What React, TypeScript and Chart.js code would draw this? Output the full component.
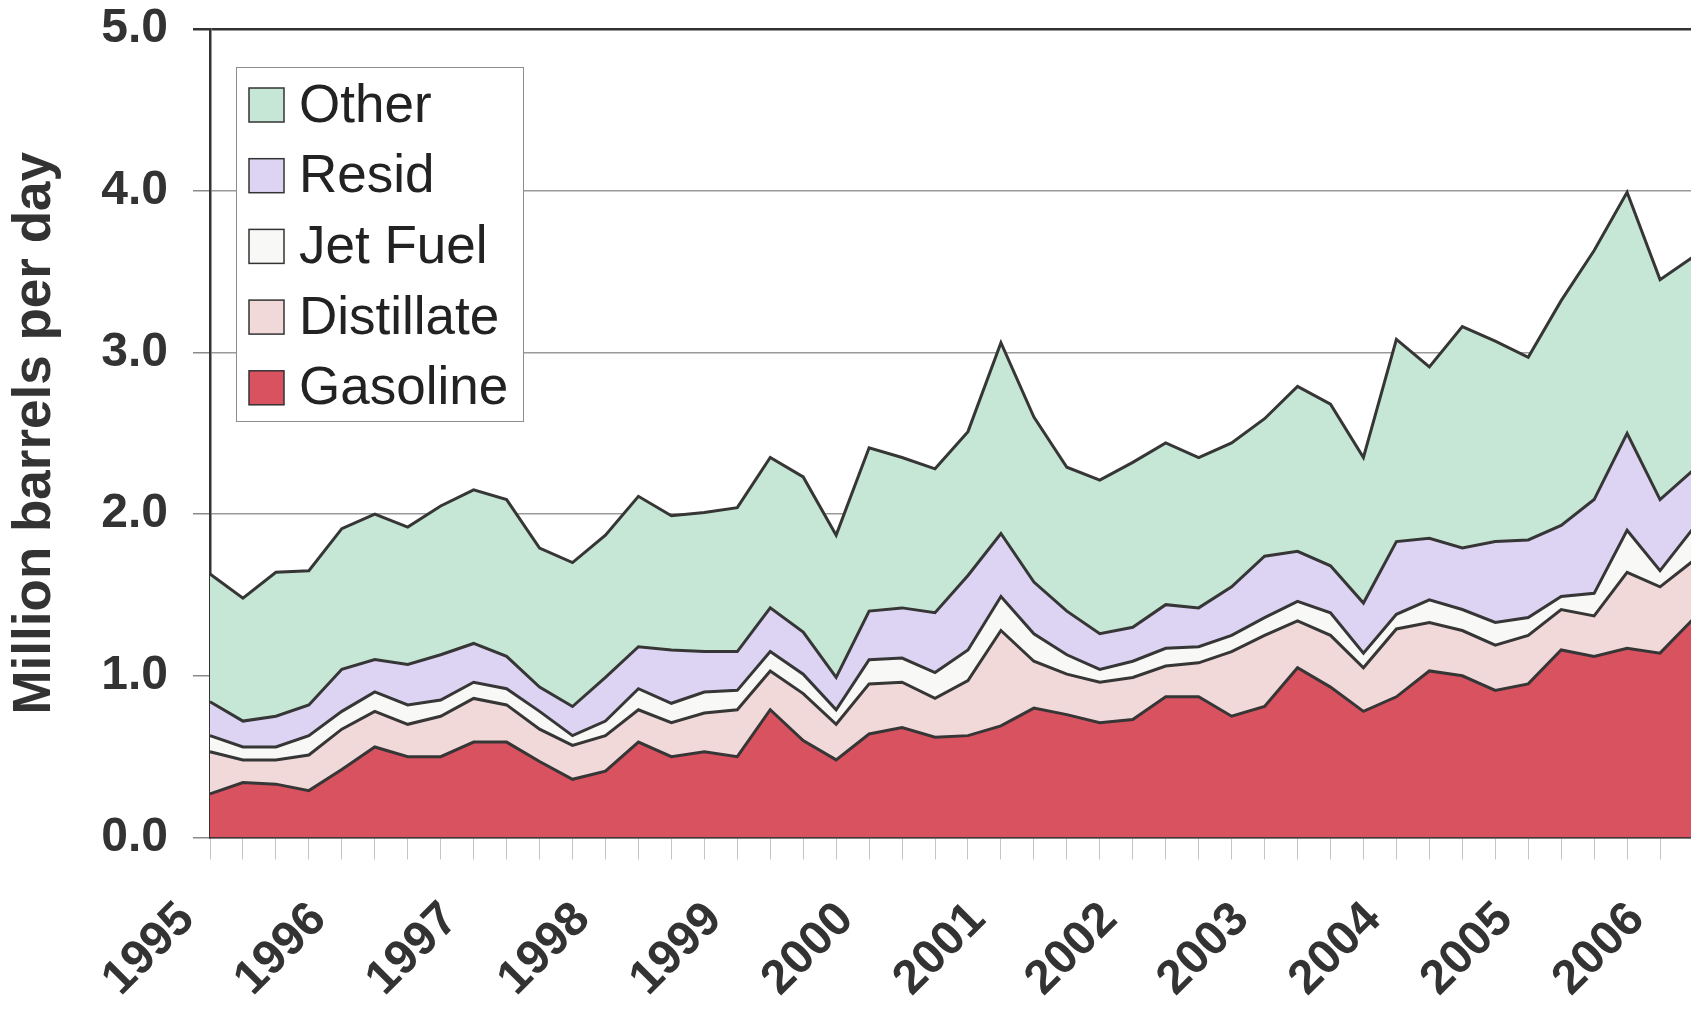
import React, { useEffect, useRef } from 'react';
import { Chart, registerables } from 'chart.js';

Chart.register(...registerables);

const quarters = [
  '1995 Q1', '1995 Q2', '1995 Q3', '1995 Q4',
  '1996 Q1', '1996 Q2', '1996 Q3', '1996 Q4',
  '1997 Q1', '1997 Q2', '1997 Q3', '1997 Q4',
  '1998 Q1', '1998 Q2', '1998 Q3', '1998 Q4',
  '1999 Q1', '1999 Q2', '1999 Q3', '1999 Q4',
  '2000 Q1', '2000 Q2', '2000 Q3', '2000 Q4',
  '2001 Q1', '2001 Q2', '2001 Q3', '2001 Q4',
  '2002 Q1', '2002 Q2', '2002 Q3', '2002 Q4',
  '2003 Q1', '2003 Q2', '2003 Q3', '2003 Q4',
  '2004 Q1', '2004 Q2', '2004 Q3', '2004 Q4',
  '2005 Q1', '2005 Q2', '2005 Q3', '2005 Q4',
  '2006 Q1', '2006 Q2',
];

const gasoline = [
  0.27, 0.34, 0.33, 0.29, 0.42, 0.56, 0.50, 0.50, 0.59, 0.59,
  0.47, 0.36, 0.41, 0.59, 0.50, 0.53, 0.50, 0.79, 0.60, 0.48,
  0.64, 0.68, 0.62, 0.63, 0.69, 0.80, 0.76, 0.71, 0.73, 0.87,
  0.87, 0.75, 0.81, 1.05, 0.93, 0.78, 0.87, 1.03, 1.00, 0.91,
  0.95, 1.16, 1.12, 1.17, 1.14, 1.35,
];

const distillate = [
  0.26, 0.14, 0.15, 0.22, 0.25, 0.22, 0.20, 0.25, 0.27, 0.23,
  0.20, 0.21, 0.22, 0.20, 0.21, 0.24, 0.29, 0.24, 0.29, 0.22,
  0.31, 0.28, 0.24, 0.34, 0.59, 0.29, 0.25, 0.25, 0.26, 0.19,
  0.21, 0.40, 0.44, 0.29, 0.32, 0.27, 0.42, 0.30, 0.28, 0.28,
  0.30, 0.25, 0.25, 0.47, 0.41, 0.36,
];

const jetFuel = [
  0.10, 0.08, 0.08, 0.12, 0.11, 0.12, 0.12, 0.10, 0.10, 0.10,
  0.11, 0.06, 0.09, 0.13, 0.12, 0.13, 0.12, 0.12, 0.12, 0.09,
  0.15, 0.15, 0.16, 0.19, 0.21, 0.17, 0.12, 0.08, 0.10, 0.11,
  0.10, 0.10, 0.11, 0.12, 0.14, 0.09, 0.09, 0.14, 0.13, 0.14,
  0.11, 0.08, 0.14, 0.26, 0.10, 0.20,
];

const resid = [
  0.21, 0.16, 0.19, 0.19, 0.26, 0.20, 0.25, 0.28, 0.24, 0.20,
  0.15, 0.18, 0.27, 0.26, 0.33, 0.25, 0.24, 0.27, 0.26, 0.20,
  0.30, 0.31, 0.37, 0.46, 0.39, 0.32, 0.27, 0.22, 0.21, 0.27,
  0.24, 0.30, 0.38, 0.31, 0.29, 0.31, 0.45, 0.38, 0.38, 0.50,
  0.48, 0.44, 0.58, 0.60, 0.44, 0.36,
];

const other = [
  0.79, 0.76, 0.89, 0.83, 0.87, 0.90, 0.85, 0.92, 0.95, 0.97,
  0.86, 0.89, 0.88, 0.93, 0.83, 0.86, 0.89, 0.93, 0.96, 0.88,
  1.01, 0.93, 0.89, 0.89, 1.18, 1.02, 0.89, 0.95, 1.02, 1.00,
  0.93, 0.89, 0.85, 1.02, 1.00, 0.90, 1.25, 1.06, 1.37, 1.24,
  1.13, 1.39, 1.54, 1.49, 1.36, 1.32,
];

const seriesNames = ['Gasoline', 'Distillate', 'Jet Fuel', 'Resid', 'Other'];
const seriesData = [gasoline, distillate, jetFuel, resid, other];
const seriesColors = ['#D9525F', '#F1D8D9', '#F8F8F6', '#DDD4F3', '#C6E6D6'];
const yTitle = 'Million barrels per day';

const FONT = "'Liberation Sans', Arial, Helvetica, sans-serif";
const INK = '#333333';

const boxLegend = {
  id: 'boxLegend',
  afterDraw(chart: any) {
    const { ctx, chartArea } = chart;
    const x0 = Math.round(chartArea.left + 26);
    const y0 = Math.round(chartArea.top + 38);
    const w = 287;
    const h = 354;
    ctx.save();
    ctx.fillStyle = '#ffffff';
    ctx.fillRect(x0, y0, w, h);
    ctx.strokeStyle = '#8c8c8c';
    ctx.lineWidth = 1;
    ctx.strokeRect(x0 + 0.5, y0 + 0.5, w, h);
    const ds = chart.data.datasets;
    const n = ds.length;
    for (let k = 0; k < n; k++) {
      const d = ds[n - 1 - k];
      const cy = y0 + 38 + k * 70.7;
      ctx.fillStyle = d.backgroundColor;
      ctx.fillRect(x0 + 13, cy - 17, 35, 34);
      ctx.strokeStyle = INK;
      ctx.lineWidth = 1.5;
      ctx.strokeRect(x0 + 13, cy - 17, 35, 34);
      ctx.fillStyle = '#222222';
      ctx.font = `53px ${FONT}`;
      ctx.textBaseline = 'middle';
      ctx.textAlign = 'left';
      ctx.fillText(d.label, x0 + 63, cy + 2);
    }
    ctx.restore();
  },
};

export default function App() {
  const canvasRef = useRef<HTMLCanvasElement | null>(null);

  useEffect(() => {
    const canvas = canvasRef.current;
    if (!canvas) return;
    const datasets = seriesNames.map((name, i) => ({
      label: name,
      data: seriesData[i],
      backgroundColor: seriesColors[i],
      borderColor: '#363636',
      borderWidth: 3,
      borderJoinStyle: 'miter' as const,
      pointRadius: 0,
      tension: 0,
      fill: i === 0 ? 'origin' : '-1',
    }));

    const chart = new Chart(canvas, {
      type: 'line',
      data: { labels: quarters, datasets },
      plugins: [boxLegend],
      options: {
        responsive: false,
        animation: false,
        events: [],
        layout: { padding: { top: 29, right: 7, left: 0, bottom: 0 } },
        plugins: {
          legend: { display: false },
          tooltip: { enabled: false },
        },
        scales: {
          x: {
            type: 'category',
            offset: false,
            grid: {
              display: true,
              drawOnChartArea: false,
              drawTicks: true,
              tickLength: 22,
              color: '#c4c4c4',
              lineWidth: 1,
            },
            border: { display: true, color: INK, width: 2.5 },
            ticks: {
              autoSkip: false,
              minRotation: 45,
              maxRotation: 45,
              padding: 32,
              labelOffset: -23,
              color: INK,
              font: { family: FONT, size: 48, weight: 'bold' },
              callback: (_v: any, i: number) => {
                const q = quarters[i];
                return q.endsWith('Q1') ? q.slice(0, 4) : '';
              },
            },
            afterFit: (s: any) => {
              s.height = 175.5;
              s.paddingLeft = 0;
              s.paddingRight = 0;
              s.paddingTop = 0;
              s.paddingBottom = 0;
            },
          },
          y: {
            stacked: true,
            min: 0,
            max: 5,
            ticks: {
              stepSize: 1,
              padding: 25,
              color: INK,
              font: { family: FONT, size: 48, weight: 'bold' },
              callback: (v: any) => Number(v).toFixed(1),
            },
            grid: {
              color: (c: any) => (c.tick && c.tick.value === 5 ? INK : '#9a9a9a'),
              tickColor: (c: any) => (c.tick && c.tick.value === 5 ? INK : '#8a8a8a'),
              lineWidth: (c: any) => (c.tick && c.tick.value === 5 ? 2.5 : 1.5),
              tickLength: 17,
              drawTicks: true,
            },
            border: { display: true, color: INK, width: 2.5 },
            title: {
              display: true,
              text: yTitle,
              color: INK,
              font: { family: FONT, size: 53, weight: 'bold' },
              padding: { top: 4, bottom: 0 },
            },
            afterFit: (s: any) => {
              s.width = 210;
              s.paddingTop = 0;
              s.paddingBottom = 0;
              s.paddingLeft = 0;
              s.paddingRight = 0;
            },
          },
        },
      },
    } as any);

    return () => {
      chart.destroy();
    };
  }, []);

  return (
    <div
      style={{
        position: 'fixed',
        left: 0,
        top: 0,
        width: '100vw',
        height: '100vh',
        overflow: 'hidden',
        background: '#ffffff',
      }}
    >
      <canvas
        ref={canvasRef}
        width={1700}
        height={1013}
        style={{ display: 'block', width: 1700, height: 1013 }}
      />
    </div>
  );
}
